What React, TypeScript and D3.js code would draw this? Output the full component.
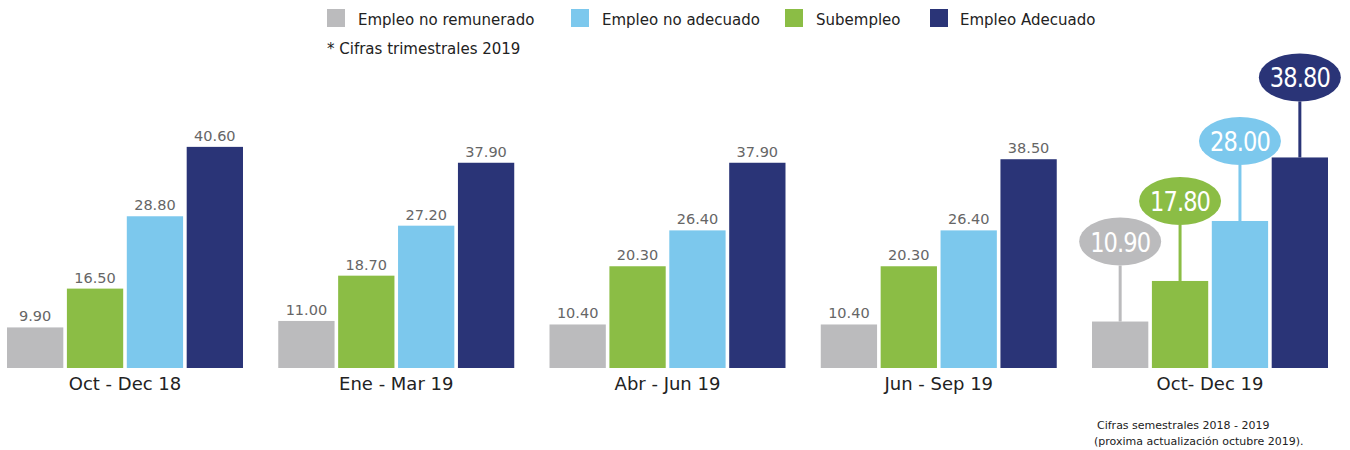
import React from "react";
import * as d3 from "d3";

const periods = ["Oct - Dec 18", "Ene - Mar 19", "Abr - Jun 19", "Jun - Sep 19", "Oct- Dec 19"];
const noRemunerado = [9.9, 11.0, 10.4, 10.4, 10.9];
const subempleo = [16.5, 18.7, 20.3, 20.3, 17.8];
const noAdecuado = [28.8, 27.2, 26.4, 26.4, 28.0];
const adecuado = [40.6, 37.9, 37.9, 38.5, 38.8];
const highlightPeriod = "Oct- Dec 19";

const seriesKeys = ["Empleo no remunerado", "Subempleo", "Empleo no adecuado", "Empleo Adecuado"];
const seriesValues = [noRemunerado, subempleo, noAdecuado, adecuado];
const legendKeys = ["Empleo no remunerado", "Empleo no adecuado", "Subempleo", "Empleo Adecuado"];
const colors: Record<string, string> = {
  "Empleo no remunerado": "#BBBBBD",
  "Subempleo": "#8BBD45",
  "Empleo no adecuado": "#7CC8ED",
  "Empleo Adecuado": "#2A3477",
};

const W = 1350;
const H = 450;
const baseY = 368;
const FONT = "Verdana, 'DejaVu Sans', sans-serif";

export default function App() {
  const x0 = d3.scaleBand<string>().domain(periods).range([7, 1328]).paddingInner(0.13);
  const x1 = d3.scaleBand<string>().domain(seriesKeys).range([0, x0.bandwidth()]).paddingInner(0.06);
  const y = d3.scaleLinear().domain([3, 45]).range([baseY, 121]);

  const legendX = d3.scaleOrdinal<string, number>().domain(legendKeys).range([327, 571, 785, 930]);

  return (
    <svg width={W} height={H} style={{ position: "absolute", left: 0, top: 0, background: "#fff" }}>
      {legendKeys.map((k) => (
        <g key={k} transform={`translate(${legendX(k)},0)`}>
          <rect x={0} y={9} width={18} height={18} fill={colors[k]} />
          <text x={k === "Empleo Adecuado" ? 30 : 31} y={25} fontFamily={FONT} fontSize={15} fill="#222">{k}</text>
        </g>
      ))}
      <text x={327} y={54} fontFamily={FONT} fontSize={15} fill="#222">* Cifras trimestrales 2019</text>

      {periods.map((p, gi) => {
        const gx = x0(p)!;
        const hl = p === highlightPeriod;
        return (
          <g key={p} transform={`translate(${gx},0)`}>
            {seriesKeys.map((k, si) => {
              const v = seriesValues[si][gi];
              const bx = x1(k)!;
              const bw = x1.bandwidth();
              const top = y(v);
              const cx = bx + bw / 2;
              if (hl) {
                const cy = top - 80;
                const ry = 24;
                return (
                  <g key={k}>
                    <line x1={cx} x2={cx} y1={cy + ry} y2={top} stroke={colors[k]} strokeWidth={3} />
                    <rect x={bx} y={top} width={bw} height={baseY - top} fill={colors[k]} />
                    <ellipse cx={cx} cy={cy} rx={41} ry={ry} fill={colors[k]} />
                    <text x={cx} y={cy + 10} textAnchor="middle" fontFamily="'DejaVu Sans Condensed', 'DejaVu Sans', sans-serif" fontStretch="condensed" fontSize={27} letterSpacing={-1} textLength={60} lengthAdjust="spacingAndGlyphs" fill="#fff">{v.toFixed(2)}</text>
                  </g>
                );
              }
              return (
                <g key={k}>
                  <rect x={bx} y={top} width={bw} height={baseY - top} fill={colors[k]} />
                  <text x={cx} y={top - 6} textAnchor="middle" fontFamily={FONT} fontSize={14.5} fill="#666">{v.toFixed(2)}</text>
                </g>
              );
            })}
            <text x={x0.bandwidth() / 2} y={390} textAnchor="middle" fontFamily={FONT} fontSize={18} fill="#222">{p}</text>
          </g>
        );
      })}

      <text x={1097} y={429} fontFamily={FONT} fontSize={11} fill="#222">Cifras semestrales 2018 - 2019</text>
      <text x={1094} y={445} fontFamily={FONT} fontSize={11} fill="#222">(proxima actualización octubre 2019).</text>
    </svg>
  );
}
